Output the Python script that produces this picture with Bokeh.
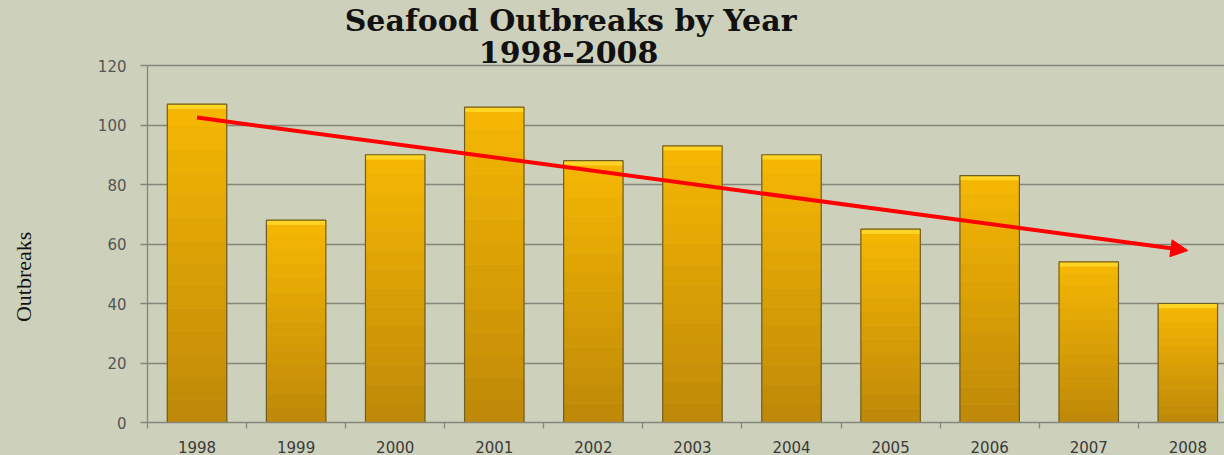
import math
from bokeh.plotting import figure
from bokeh.layouts import row
from bokeh.models import Range1d, FixedTicker, Arrow, NormalHead, ColumnDataSource
from bokeh.core.properties import value
from bokeh.embed import file_html
from bokeh.resources import INLINE

# ---- data ----
years = ["1998", "1999", "2000", "2001", "2002", "2003", "2004", "2005", "2006", "2007", "2008"]
outbreaks = [107, 68, 90, 106, 88, 93, 90, 65, 83, 54, 40]
trend_start = 102.5
trend_end = 57.8
y_ticks = [0, 20, 40, 60, 80, 100, 120]
title_line1 = "Seafood Outbreaks by Year"
title_line2 = "1998-2008"
y_label = "Outbreaks"

BG = "#CDD1BB"
GRID = "#858579"
LEFT_W = 60

n = len(years)
xc = [i + 0.5 for i in range(n)]

# narrow strip holding the vertical y-axis title
lp = figure(width=LEFT_W, height=455, output_backend="svg", toolbar_location=None,
            x_range=Range1d(0, LEFT_W), y_range=Range1d(0, 455), min_border=0)
lp.axis.visible = False
lp.grid.visible = False
lp.outline_line_color = None
lp.background_fill_alpha = 0
lp.border_fill_alpha = 0
lp.styles = {"background-color": BG}
lp.text(x=[23], y=[157], text=[y_label], angle=math.pi / 2, text_align="center",
        text_baseline="middle", text_font=value("Liberation Serif"), text_font_size="22px",
        text_color="#111111")

p = figure(width=1224 - LEFT_W, height=455, output_backend="svg", toolbar_location=None,
           x_range=Range1d(0, 10.87), y_range=Range1d(0, 141.85),
           min_border_left=147 - LEFT_W, min_border_right=0, min_border_top=0, min_border_bottom=33)
p.background_fill_alpha = 0
p.border_fill_alpha = 0
p.styles = {"background-color": BG}
p.outline_line_color = None

# gradient bars built from slices
N = 14
c_bot = (190, 136, 8)
c_top = (246, 184, 2)
for k in range(N):
    t = (k + 0.5) / N
    col = "#%02x%02x%02x" % tuple(int(round(c_bot[j] + (c_top[j] - c_bot[j]) * t)) for j in range(3))
    src = ColumnDataSource(dict(x=xc,
                                b=[v * k / N for v in outbreaks],
                                t=[v * (k + 1) / N for v in outbreaks]))
    p.vbar(x="x", bottom="b", top="t", width=0.6, source=src,
           fill_color=col, line_color=col, line_width=0.6)

# top bevel cap
cap = ColumnDataSource(dict(x=xc, t=outbreaks, b=[v - 1.6 for v in outbreaks]))
p.vbar(x="x", bottom="b", top="t", width=0.6, source=cap,
       fill_color="#FFD424", line_color=None)
# outline
p.vbar(x=xc, top=outbreaks, bottom=0, width=0.6, fill_alpha=0,
       line_color="#6E5E24", line_width=1.2)

# trend arrow
p.add_layout(Arrow(x_start=xc[0], y_start=trend_start, x_end=xc[-1], y_end=trend_end,
                   line_color="#FF0000", line_width=4,
                   end=NormalHead(size=17, fill_color="#FF0000", line_color="#FF0000")))

# title
p.text(x=[4.27], y=[135.0], text=[title_line1], text_align="center", text_baseline="alphabetic",
       text_font=value("DejaVu Serif"), text_font_style="bold", text_font_size="30px",
       text_color="#111111")
p.text(x=[4.25], y=[124.4], text=[title_line2], text_align="center", text_baseline="alphabetic",
       text_font=value("DejaVu Serif"), text_font_style="bold", text_font_size="30px",
       text_color="#111111")

# axes
p.xgrid.visible = False
p.ygrid.ticker = FixedTicker(ticks=y_ticks)
p.ygrid.grid_line_color = GRID
p.ygrid.grid_line_width = 1.3
p.ygrid.bounds = (0, 120)

ya = p.yaxis[0]
ya.ticker = FixedTicker(ticks=y_ticks, minor_ticks=[])
ya.bounds = (0, 120)
ya.axis_line_color = GRID
ya.axis_line_width = 1.3
ya.major_tick_line_color = GRID
ya.major_tick_line_width = 1.3
ya.major_tick_out = 7
ya.major_tick_in = 0
ya.minor_tick_line_color = None
ya.major_label_text_font = "DejaVu Sans"
ya.major_label_text_font_size = "15px"
ya.major_label_text_color = "#555555"
ya.major_label_standoff = 14

xa = p.xaxis[0]
xa.ticker = FixedTicker(ticks=xc, minor_ticks=list(range(n + 1)))
xa.major_label_overrides = {x: y for x, y in zip(xc, years)}
xa.axis_line_color = GRID
xa.axis_line_width = 1.3
xa.major_tick_line_color = None
xa.major_tick_out = 0
xa.major_tick_in = 0
xa.minor_tick_line_color = GRID
xa.minor_tick_line_width = 1.3
xa.minor_tick_out = 6
xa.minor_tick_in = 0
xa.major_label_text_font = "DejaVu Sans"
xa.major_label_text_font_size = "15px"
xa.major_label_text_color = "#3a3a3a"
xa.major_label_standoff = 12

layout = row(lp, p, spacing=0)
layout.styles = {"background-color": BG}
open("out.html", "w").write(file_html(layout, INLINE))
